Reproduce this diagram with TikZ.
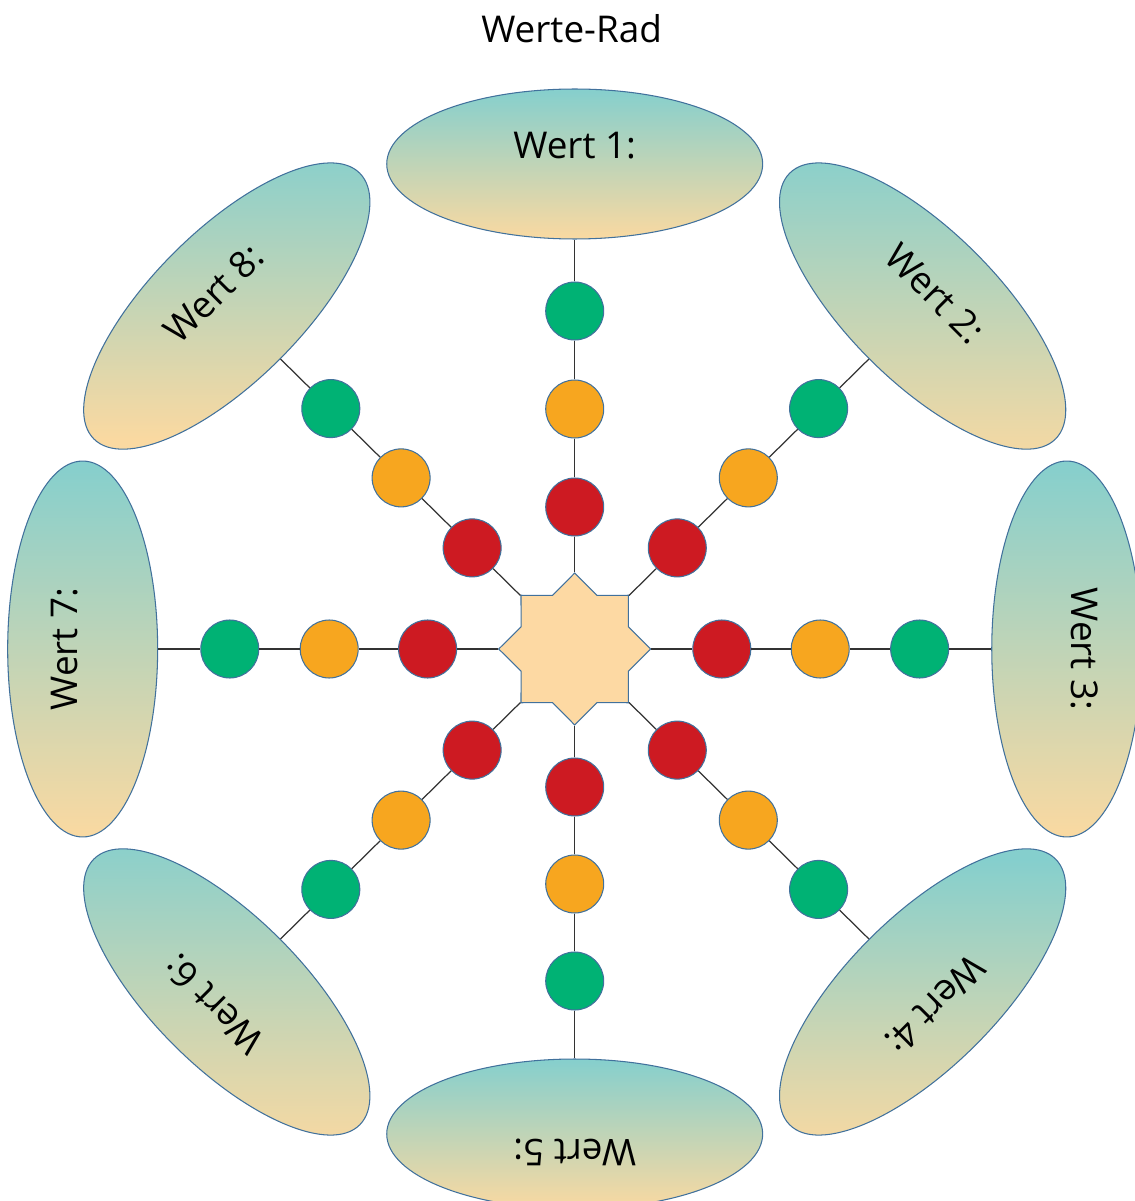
\documentclass[tikz,border=0pt]{standalone}
\usepackage{fontspec}
\setmainfont{Open Sans}
\usetikzlibrary{shapes.geometric}

\definecolor{wteal}{HTML}{85CFCD}
\definecolor{wpeach}{HTML}{FAD9A1}
\definecolor{hubfill}{HTML}{FDD9A3}
\definecolor{wline}{HTML}{41719C}
\definecolor{dotred}{HTML}{CD1A22}
\definecolor{dotorange}{HTML}{F7A61F}
\definecolor{dotgreen}{HTML}{00B274}

\tikzset{
  wert/.style={ellipse, draw=wline, line width=0.6pt, minimum width=7.52cm, minimum height=3cm, top color=wteal, bottom color=wpeach},
  tag/.style={inner sep=0, font=\fontsize{21}{25}\selectfont},
  dot/.style={circle, draw=wline, line width=0.6pt, minimum size=1.16cm, inner sep=0},
  hub/.style={star, star points=8, star point ratio=1.31, minimum size=3.04cm, inner sep=0, draw=wline, line width=0.6pt, fill=hubfill},
}

\begin{document}
\begin{tikzpicture}[x=0.0203cm, y=0.02cm]
        \useasboundingbox (-566.5,-552) rectangle (551.7,649);
        \node[tag] (title) at (-3,620) {Werte-Rad};

        \node[hub] (hub) at (0,0) {};

        % Werte
        \node[wert, rotate=0] (w1) at (90:485) {};
        \node[wert, rotate=-45] (w2) at (45:485) {};
        \node[wert, rotate=-90] (w3) at (0:485) {};
        \node[wert, rotate=-135] (w4) at (-45:485) {};
        \node[wert, rotate=180] (w5) at (-90:485) {};
        \node[wert, rotate=135] (w6) at (-135:485) {};
        \node[wert, rotate=90] (w7) at (180:485) {};
        \node[wert, rotate=45] (w8) at (135:485) {};

        \node[tag, rotate=0] (t1) at (90:503) {Wert 1:};
        \node[tag, rotate=-45] (t2) at (45:503) {Wert 2:};
        \node[tag, rotate=-90] (t3) at (0:503) {Wert 3:};
        \node[tag, rotate=-135] (t4) at (-45:503) {Wert 4:};
        \node[tag, rotate=180] (t5) at (-90:503) {Wert 5:};
        \node[tag, rotate=135] (t6) at (-135:503) {Wert 6:};
        \node[tag, rotate=90] (t7) at (180:503) {Wert 7:};
        \node[tag, rotate=45] (t8) at (135:503) {Wert 8:};

        % Punkte
        \node[dot, fill=dotgreen] (g1) at (90:338) {};
        \node[dot, fill=dotorange] (o1) at (90:240) {};
        \node[dot, fill=dotred] (r1) at (90:142) {};
        \node[dot, fill=dotgreen] (g2) at (45:340) {};
        \node[dot, fill=dotorange] (o2) at (45:242) {};
        \node[dot, fill=dotred] (r2) at (45:143) {};
        \node[dot, fill=dotgreen] (g3) at (0:340) {};
        \node[dot, fill=dotorange] (o3) at (0:242) {};
        \node[dot, fill=dotred] (r3) at (0:145) {};
        \node[dot, fill=dotgreen] (g4) at (-45:340) {};
        \node[dot, fill=dotorange] (o4) at (-45:242) {};
        \node[dot, fill=dotred] (r4) at (-45:143) {};
        \node[dot, fill=dotgreen] (g5) at (-90:332) {};
        \node[dot, fill=dotorange] (o5) at (-90:235) {};
        \node[dot, fill=dotred] (r5) at (-90:138) {};
        \node[dot, fill=dotgreen] (g6) at (-135:340) {};
        \node[dot, fill=dotorange] (o6) at (-135:242) {};
        \node[dot, fill=dotred] (r6) at (-135:143) {};
        \node[dot, fill=dotgreen] (g7) at (180:340) {};
        \node[dot, fill=dotorange] (o7) at (180:242) {};
        \node[dot, fill=dotred] (r7) at (180:145) {};
        \node[dot, fill=dotgreen] (g8) at (135:340) {};
        \node[dot, fill=dotorange] (o8) at (135:242) {};
        \node[dot, fill=dotred] (r8) at (135:143) {};

        \begin{scope}[every path/.style={draw=black!80, line width=0.7pt}]
                \path (w1) -- (g1) -- (o1) -- (r1) -- (hub);
                \path (w2) -- (g2) -- (o2) -- (r2) -- (hub);
                \path (w3) -- (g3) -- (o3) -- (r3) -- (hub);
                \path (w4) -- (g4) -- (o4) -- (r4) -- (hub);
                \path (w5) -- (g5) -- (o5) -- (r5) -- (hub);
                \path (w6) -- (g6) -- (o6) -- (r6) -- (hub);
                \path (w7) -- (g7) -- (o7) -- (r7) -- (hub);
                \path (w8) -- (g8) -- (o8) -- (r8) -- (hub);
        \end{scope}
\end{tikzpicture}
\end{document}
